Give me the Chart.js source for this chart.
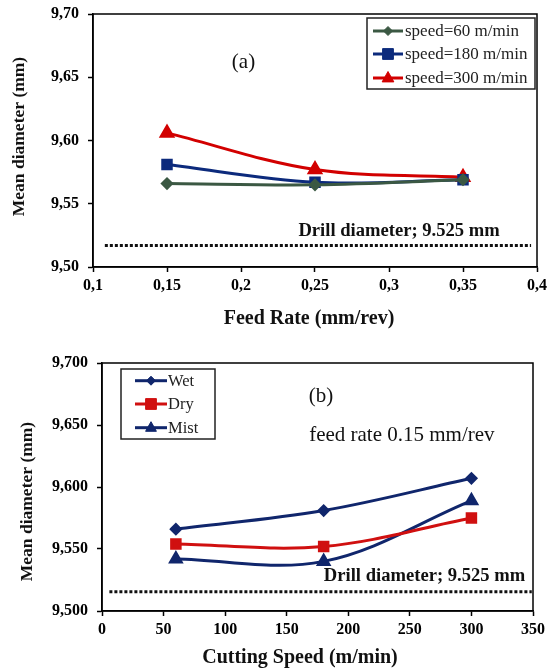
<!DOCTYPE html>
<html><head><meta charset="utf-8">
<script src="https://cdn.jsdelivr.net/npm/chart.js@4.4.1/dist/chart.umd.min.js"></script>
<style>
html,body{margin:0;padding:0;background:#fff;}
#wrap{position:relative;width:549px;height:670px;overflow:hidden;}
#ca{position:absolute;left:0;top:0;}
#cb{position:absolute;left:0;top:330px;}
</style></head><body>
<div id="wrap"><canvas id="ca" width="549" height="330"></canvas><canvas id="cb" width="549" height="340"></canvas></div>
<script>
// ---- Data (a) ----
const feedRates = [0.15, 0.25, 0.35];
const speed60  = [9.566, 9.565, 9.569];
const speed180 = [9.581, 9.567, 9.569];
const speed300 = [9.606, 9.577, 9.571];
const drillXA = [0.108, 0.396];
const drillYA = [9.517, 9.517];
const xTicksA = ['0,1','0,15','0,2','0,25','0,3','0,35','0,4'];
const yTicksA = ['9,50','9,55','9,60','9,65','9,70'];
// ---- Data (b) ----
const cuttingSpeeds = [60, 180, 300];
const wet  = [9.566, 9.581, 9.607];
const dry  = [9.554, 9.552, 9.575];
const mist = [9.542, 9.540, 9.589];
const drillXB = [6, 349];
const drillYB = [9.5155, 9.5155];
const xTicksB = ['0','50','100','150','200','250','300','350'];
const yTicksB = ['9,500','9,550','9,600','9,650','9,700'];

const SERIF = "'Liberation Serif','Times New Roman',serif";

function pts(xs, ys){ return xs.map((x,i)=>({x:x, y:ys[i]})); }

function drawMarker(ctx, style, x, y, r, color){
  ctx.save();
  ctx.fillStyle = color; ctx.strokeStyle = color; ctx.lineWidth = 1;
  ctx.beginPath();
  if (style === 'rect') {
    ctx.rect(x - r*0.9, y - r*0.9, r*1.8, r*1.8);
  } else if (style === 'rectRot') {
    ctx.moveTo(x, y - r); ctx.lineTo(x + r, y); ctx.lineTo(x, y + r); ctx.lineTo(x - r, y); ctx.closePath();
  } else if (style === 'triangle') {
    ctx.moveTo(x, y - r); ctx.lineTo(x + r*0.9, y + r*0.6); ctx.lineTo(x - r*0.9, y + r*0.6); ctx.closePath();
  }
  ctx.fill(); ctx.stroke();
  ctx.restore();
}

const extras = {
  id: 'extras',
  afterDraw(chart, args, opts) {
    const ctx = chart.ctx, a = chart.chartArea;
    ctx.save();
    // plot frame
    ctx.strokeStyle = '#000'; ctx.lineWidth = 1.5;
    ctx.strokeRect(a.left, a.top, a.right - a.left, a.bottom - a.top);
    // annotations
    const xs = chart.scales.x, ys = chart.scales.y;
    (opts.labels || []).forEach(l => {
      ctx.font = l.font; ctx.fillStyle = '#111';
      ctx.textAlign = 'center'; ctx.textBaseline = 'middle';
      ctx.fillText(l.text, xs.getPixelForValue(l.x), ys.getPixelForValue(l.y));
    });
    // axis titles
    (opts.titles || []).forEach(t => {
      ctx.save();
      ctx.translate(t.x, t.y);
      if (t.rot) ctx.rotate(t.rot);
      ctx.font = t.font; ctx.fillStyle = '#111';
      ctx.textAlign = 'center'; ctx.textBaseline = 'middle';
      ctx.fillText(t.text, 0, 0);
      ctx.restore();
    });
    // legend
    const L = opts.legend;
    if (L) {
      ctx.fillStyle = '#fff';
      ctx.fillRect(L.x, L.y, L.w, L.h);
      ctx.strokeStyle = '#222'; ctx.lineWidth = 1.5;
      ctx.strokeRect(L.x, L.y, L.w, L.h);
      const items = chart.data.datasets.filter(d => !d.isRef);
      items.forEach((d, i) => {
        const y = L.rows[i];
        ctx.strokeStyle = d.borderColor; ctx.lineWidth = 3;
        ctx.beginPath(); ctx.moveTo(L.sx0, y); ctx.lineTo(L.sx1, y); ctx.stroke();
        drawMarker(ctx, d.pointStyle, (L.sx0 + L.sx1)/2, y, d.pointRadius, d.borderColor);
        ctx.fillStyle = '#222'; ctx.font = L.font;
        ctx.textAlign = 'left'; ctx.textBaseline = 'middle';
        ctx.fillText(d.label, L.tx, y + 1);
      });
    }
    ctx.restore();
  }
};

function series(label, xs, ys, color, style, r){
  return { label: label, data: pts(xs, ys), borderColor: color, backgroundColor: color,
    pointBackgroundColor: color, pointBorderColor: color, pointStyle: style, pointRadius: r,
    pointHoverRadius: r, borderWidth: 3, tension: 0.35, fill: false };
}
function refLine(xs, ys){
  return { label: 'drill', isRef: true, data: pts(xs, ys), borderColor: '#111', borderWidth: 3,
    borderDash: [3, 2], pointRadius: 0, tension: 0, fill: false };
}
function scaleX(min, max, step, labels, height){
  return { type: 'linear', min: min, max: max,
    ticks: { stepSize: step, autoSkip: false, maxRotation: 0, color: '#000', padding: 4,
      font: { family: SERIF, size: 16, weight: 'bold' },
      callback: (v, i) => labels[i] },
    grid: { drawOnChartArea: false, drawTicks: true, tickLength: 5, color: '#000', tickColor: '#000', tickWidth: 1.5 },
    border: { color: '#000', width: 1.5 },
    title: { display: false },
    afterFit: s => { s.height = height; s.paddingLeft = 0; s.paddingRight = 0; } };
}
function scaleY(min, max, step, labels, width){
  return { type: 'linear', min: min, max: max,
    ticks: { stepSize: step, autoSkip: false, color: '#000', padding: 9,
      font: { family: SERIF, size: 16, weight: 'bold' },
      callback: (v, i) => labels[i] },
    grid: { drawOnChartArea: false, drawTicks: true, tickLength: 5, color: '#000', tickColor: '#000', tickWidth: 1.5 },
    border: { color: '#000', width: 1.5 },
    title: { display: false },
    afterFit: s => { s.width = width; s.paddingTop = 0; s.paddingBottom = 0; } };
}

new Chart(document.getElementById('ca'), {
  type: 'line',
  data: { datasets: [
    series('speed=60 m/min', feedRates, speed60, '#3b5843', 'rectRot', 4.5),
    series('speed=180 m/min', feedRates, speed180, '#0c2a7c', 'rect', 6),
    series('speed=300 m/min', feedRates, speed300, '#d20000', 'triangle', 6.5),
    refLine(drillXA, drillYA)
  ]},
  options: {
    responsive: false, animation: false, devicePixelRatio: 1,
    layout: { padding: { left: 0, right: 12, top: 14, bottom: 0 } },
    scales: {
      x: scaleX(0.1, 0.4, 0.05, xTicksA, 63),
      y: scaleY(9.5, 9.7, 0.05, yTicksA, 93)
    },
    plugins: {
      legend: { display: false }, tooltip: { enabled: false },
      extras: {
        labels: [
          { text: '(a)', x: 0.2017, y: 9.662, font: '21px ' + SERIF },
          { text: 'Drill diameter; 9.525 mm', x: 0.3068, y: 9.5285, font: 'bold 18.6px ' + SERIF }
        ],
        titles: [
          { text: 'Feed Rate (mm/rev)', x: 309, y: 319, font: 'bold 20px ' + SERIF },
          { text: 'Mean diameter (mm)', x: 19, y: 136.5, rot: -Math.PI/2, font: 'bold 17.5px ' + SERIF }
        ],
        legend: { x: 367, y: 18, w: 168, h: 71, rows: [31, 54, 78], sx0: 373, sx1: 403, tx: 405, font: '17px ' + SERIF }
      }
    }
  },
  plugins: [extras]
});

new Chart(document.getElementById('cb'), {
  type: 'line',
  data: { datasets: [
    series('Wet', cuttingSpeeds, wet, '#10266c', 'rectRot', 4.5),
    series('Dry', cuttingSpeeds, dry, '#d01010', 'rect', 6),
    series('Mist', cuttingSpeeds, mist, '#10266c', 'triangle', 6),
    refLine(drillXB, drillYB)
  ]},
  options: {
    responsive: false, animation: false, devicePixelRatio: 1,
    layout: { padding: { left: 0, right: 16, top: 33, bottom: 0 } },
    scales: {
      x: scaleX(0, 350, 50, xTicksB, 59),
      y: scaleY(9.5, 9.7, 0.05, yTicksB, 102)
    },
    plugins: {
      legend: { display: false }, tooltip: { enabled: false },
      extras: {
        labels: [
          { text: '(b)', x: 177.8, y: 9.673, font: '21px ' + SERIF },
          { text: 'feed rate 0.15 mm/rev', x: 243.5, y: 9.6413, font: '21px ' + SERIF },
          { text: 'Drill diameter; 9.525 mm', x: 261.9, y: 9.5277, font: 'bold 18.6px ' + SERIF }
        ],
        titles: [
          { text: 'Cutting Speed (m/min)', x: 300, y: 328, font: 'bold 20px ' + SERIF },
          { text: 'Mean diameter (mm)', x: 27, y: 171.5, rot: -Math.PI/2, font: 'bold 17.5px ' + SERIF }
        ],
        legend: { x: 121, y: 39, w: 94, h: 70, rows: [50.7, 74, 97.7], sx0: 135, sx1: 167, tx: 168, font: '16.5px ' + SERIF }
      }
    }
  },
  plugins: [extras]
});
</script>
</body></html>
